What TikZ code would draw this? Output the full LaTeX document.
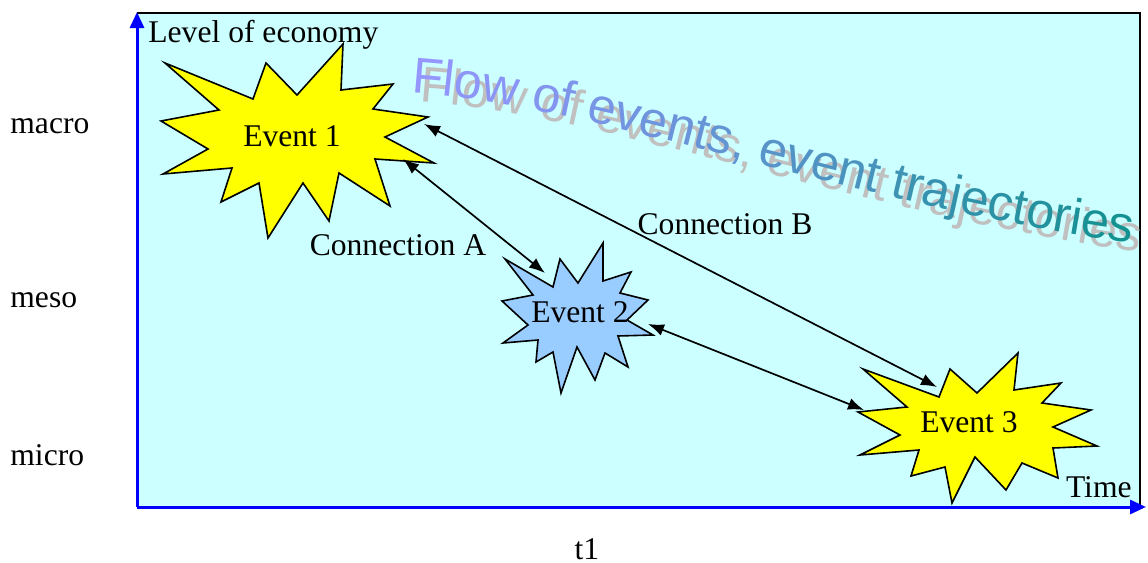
\documentclass[tikz,border=0pt]{standalone}
\usepackage{fontspec}
\setmainfont{Liberation Serif}
\newfontfamily\wafont{Liberation Sans}
\usetikzlibrary{arrows.meta,decorations.text}
\definecolor{bgcyan}{HTML}{CCFFFF}
\definecolor{evyellow}{HTML}{FFFF00}
\definecolor{evblue}{HTML}{99CCFF}
\definecolor{wa}{RGB}{150,150,255}
\definecolor{wb}{RGB}{20,145,145}
\definecolor{shadowgray}{RGB}{192,192,192}
\newcommand\lblfont{\fontsize{15.8}{19}\selectfont}
\newcommand\wf[1]{\wafont\fontsize{25.2}{30}\selectfont\color{wb!#1!wa}}
\newcommand\wfs{\wafont\fontsize{25.2}{30}\selectfont\color{shadowgray}}
\tikzset{
  lbl/.style={font=\lblfont, inner sep=0pt, anchor=base},
  evstar/.style={draw=black, line width=0.8pt, line join=miter},
  conn/.style={{Latex[length=8pt,width=6pt]}-{Latex[length=8pt,width=6pt]}, line width=0.85pt, black},
  axis/.style={blue, line width=1.5pt, -{Triangle[length=8pt,width=7pt]}},
}
\begin{document}
\begin{tikzpicture}[x=0.5pt,y=-0.5pt]
\useasboundingbox (0,0) rectangle (1148,563);
% plotting area
\fill[bgcyan] (137,13) rectangle (1140,507);
\draw[black, line width=0.7pt] (137,13) -- (1140,13) -- (1140,507);
% axes
\coordinate (o) at (137,507);
\coordinate (ytip) at (137,12);
\coordinate (xtip) at (1146,507);
\draw[axis] (o) -- (ytip);
\draw[axis] (o) -- (xtip);
% WordArt shadow and text
\coordinate (ws0) at (419,102);
\coordinate (ws1) at (1152,254);
\coordinate (w0) at (411,93);
\coordinate (w1) at (1144,245);
\path[decorate, decoration={text along path, text={|\wfs|Flow of events, event trajectories}}]
  (ws0) .. controls (608,114) and (878,219) .. (ws1);
\path[decorate, decoration={text along path, text={|\wf{0}|F|\wf{3}|l|\wf{6}|o|\wf{9}|w |\wf{15}|o|\wf{18}|f |\wf{24}|e|\wf{27}|v|\wf{30}|e|\wf{33}|n|\wf{36}|t|\wf{39}|s|\wf{42}|, |\wf{48}|e|\wf{52}|v|\wf{55}|e|\wf{58}|n|\wf{61}|t |\wf{67}|t|\wf{70}|r|\wf{73}|a|\wf{76}|j|\wf{79}|e|\wf{82}|c|\wf{85}|t|\wf{88}|o|\wf{91}|r|\wf{94}|i|\wf{97}|e|\wf{100}|s}}]
  (w0) .. controls (600,105) and (870,210) .. (w1);
% Event 1 star
\draw[evstar, fill=evyellow] (165,63) -- (253,99) -- (266,63) -- (297,95) -- (343,44) -- (341,90) -- (393,84) -- (373,109) -- (428,117) -- (385,137) -- (434,163) -- (375,159) -- (390,206) -- (339,173) -- (329,221) -- (303,183) -- (268,238) -- (259,183) -- (221,202) -- (232,168) -- (163,174) -- (208,149) -- (161,121) -- (219,110) -- cycle;
% Event 2 star
\draw[evstar, fill=evblue] (505,259) -- (553,287) -- (560,259) -- (578,283) -- (603,243) -- (603,281) -- (631,272) -- (620,293) -- (648,300) -- (627,320) -- (653,335) -- (618,336) -- (628,367) -- (605,353) -- (595,380) -- (577,347) -- (561,393) -- (553,352) -- (536,362) -- (538,340) -- (503,343) -- (528,325) -- (502,301) -- (533,295) -- cycle;
% Event 3 star
\draw[evstar, fill=evyellow] (863,369) -- (939,397) -- (950,369) -- (977,393) -- (1018,353) -- (1014,390) -- (1061,383) -- (1042,403) -- (1091,410) -- (1053,427) -- (1097,446) -- (1053,448) -- (1058,478) -- (1022,463) -- (1006,490) -- (975,457) -- (952,503) -- (945,467) -- (911,476) -- (919,450) -- (860,455) -- (900,435) -- (858,412) -- (907,407) -- cycle;
% event labels
\node[lbl] (ev1) at (292,146) {Event 1};
\node[lbl] (ev2) at (580,322) {Event 2};
\node[lbl] (ev3) at (969,432) {Event 3};
% connectors
\coordinate (a1) at (403,159);
\coordinate (a2) at (545,273);
\coordinate (b1) at (424,124);
\coordinate (b2) at (937,387);
\coordinate (c1) at (648,324);
\coordinate (c2) at (864,410);
\draw[conn] (a1) -- (a2);
\draw[conn] (b1) -- (b2);
\draw[conn] (c1) -- (c2);
\node[lbl] (ca) at (398,255) {Connection A};
\node[lbl] (cb) at (725,234) {Connection B};
% axis labels
\node[lbl, anchor=base west] (ylab) at (148,42) {Level of economy};
\node[lbl, anchor=base east] (xlab) at (1132,497) {Time};
\node[lbl, anchor=base west] (macro) at (10,133) {macro};
\node[lbl, anchor=base west] (meso) at (10,307) {meso};
\node[lbl, anchor=base west] (micro) at (10,465) {micro};
\node[lbl] (t1) at (587,559) {t1};
\end{tikzpicture}
\end{document}
